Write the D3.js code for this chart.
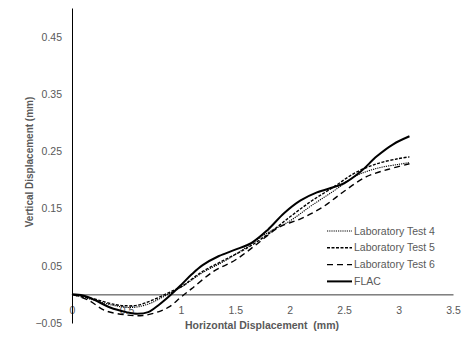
<!DOCTYPE html>
<html>
<head>
<meta charset="utf-8">
<script src="https://cdn.jsdelivr.net/npm/d3@7"></script>
<style>
  body { margin: 0; background: #fff; }
  text { font-family: "Liberation Sans", Arial, sans-serif; }
</style>
</head>
<body>
<div id="chart-area"></div>
<script>
// values
var flacX = [0, 0.1, 0.2, 0.35, 0.5, 0.6, 0.7, 0.8, 0.9, 1.0, 1.1, 1.2, 1.35, 1.5, 1.65, 1.8, 1.95, 2.1, 2.25, 2.4, 2.5, 2.65, 2.8, 2.95, 3.1];
var flacY = [0, -0.002, -0.009, -0.023, -0.031, -0.034, -0.031, -0.018, -0.002, 0.016, 0.035, 0.051, 0.067, 0.078, 0.09, 0.113, 0.142, 0.164, 0.178, 0.187, 0.194, 0.214, 0.241, 0.262, 0.276];

var test4X = [0, 0.2, 0.4, 0.55, 0.7, 0.8, 0.9, 1.0, 1.2, 1.4, 1.6, 1.8, 2.0, 2.2, 2.4, 2.6, 2.8, 3.0, 3.1];
var test4Y = [0, -0.01, -0.02, -0.023, -0.017, -0.008, 0.002, 0.012, 0.038, 0.058, 0.082, 0.108, 0.128, 0.155, 0.18, 0.206, 0.22, 0.227, 0.23];

var test5X = [0, 0.2, 0.4, 0.5, 0.6, 0.7, 0.8, 0.9, 1.0, 1.2, 1.4, 1.6, 1.8, 2.0, 2.2, 2.4, 2.6, 2.8, 3.0, 3.1];
var test5Y = [0, -0.008, -0.018, -0.02, -0.019, -0.013, -0.005, 0.004, 0.013, 0.04, 0.06, 0.08, 0.105, 0.135, 0.163, 0.187, 0.212, 0.228, 0.237, 0.24];

var test6X = [0, 0.15, 0.3, 0.5, 0.65, 0.8, 0.9, 1.0, 1.1, 1.3, 1.5, 1.7, 1.9, 2.1, 2.3, 2.5, 2.7, 2.9, 3.1];
var test6Y = [0, -0.01, -0.028, -0.036, -0.037, -0.03, -0.021, -0.005, 0.01, 0.04, 0.06, 0.088, 0.117, 0.132, 0.152, 0.18, 0.205, 0.218, 0.228];

var xTicks = [0, 0.5, 1, 1.5, 2, 2.5, 3, 3.5];
var yTicks = [-0.05, 0.05, 0.15, 0.25, 0.35, 0.45];

var seriesNames = ["Laboratory Test 4", "Laboratory Test 5", "Laboratory Test 6", "FLAC"];

var margin = {top: 8, right: 11, bottom: 17, left: 72},
    width = 464 - margin.left - margin.right,
    height = 340 - margin.top - margin.bottom;

var svg = d3.select("#chart-area")
    .append("svg")
        .attr("width", 464)
        .attr("height", 340);

var g = svg.append("g")
    .attr("transform", "translate(" + margin.left + "," + margin.top + ")");

var x = d3.scaleLinear()
    .domain([0, 3.5])
    .range([0, 381]);

var y = d3.scaleLinear()
    .domain([-0.05, 0.5])
    .range([height, 0]);

// X axis sits on y = 0
var xAxisCall = d3.axisBottom(x)
    .tickValues(xTicks)
    .tickSize(0)
    .tickPadding(12)
    .tickFormat(d3.format(""));

var xAxis = g.append("g")
    .attr("class", "x axis")
    .attr("transform", "translate(0," + y(0) + ")")
    .call(xAxisCall);
xAxis.select(".domain").attr("stroke", "#3a3a3a").attr("stroke-width", 1);
xAxis.selectAll("text").attr("font-size", "10.5px").attr("fill", "#595959");

var yAxisCall = d3.axisLeft(y)
    .tickValues(yTicks)
    .tickSize(0)
    .tickPadding(10)
    .tickFormat(d3.format(".2f"));

var yAxis = g.append("g")
    .attr("class", "y axis")
    .call(yAxisCall);
yAxis.select(".domain").attr("stroke", "#000").attr("stroke-width", 1);
yAxis.selectAll("text").attr("font-size", "10.5px").attr("fill", "#595959");

// Y Label
g.append("text")
    .attr("class", "y axis-label")
    .attr("x", -(162 - margin.top))
    .attr("y", 30 - margin.left + 3)
    .attr("font-size", "10px")
    .attr("font-weight", "bold")
    .attr("fill", "#595959")
    .attr("text-anchor", "middle")
    .attr("transform", "rotate(-90)")
    .text("Vertical Displacement (mm)");

// X Label
g.append("text")
    .attr("class", "x axis-label")
    .attr("x", 262 - margin.left)
    .attr("y", 329 - margin.top)
    .attr("font-size", "10.5px")
    .attr("font-weight", "bold")
    .attr("fill", "#595959")
    .attr("text-anchor", "middle")
    .attr("xml:space", "preserve")
    .text("Horizontal Displacement  (mm)");

var styles = [
    {dash: "1.2,1", w: 1.1},
    {dash: "3,1.5", w: 1.4},
    {dash: "6,4", w: 1.4},
    {dash: null, w: 2}
];

var series = [
    d3.zip(test4X, test4Y),
    d3.zip(test5X, test5Y),
    d3.zip(test6X, test6Y),
    d3.zip(flacX, flacY)
];

var line = d3.line()
    .x((d) => x(d[0]))
    .y((d) => y(d[1]))
    .curve(d3.curveCatmullRom.alpha(0.5));

series.forEach((s, i) => {
    g.append("path")
        .datum(s)
        .attr("fill", "none")
        .attr("stroke", "#000")
        .attr("stroke-width", styles[i].w)
        .attr("stroke-dasharray", styles[i].dash)
        .attr("d", line);
});

// legend
var legend = g.append("g")
    .attr("transform", "translate(" + (327 - margin.left) + "," + (231 - margin.top) + ")");

seriesNames.forEach((name, i) => {
    var row = legend.append("g")
        .attr("transform", "translate(0," + (i * 16.8) + ")");
    row.append("line")
        .attr("x1", 0)
        .attr("x2", 25)
        .attr("stroke", "#000")
        .attr("stroke-width", styles[i].w)
        .attr("stroke-dasharray", styles[i].dash);
    row.append("text")
        .attr("x", 27)
        .attr("dy", "0.35em")
        .attr("font-size", "10.5px")
        .attr("fill", "#595959")
        .text(name);
});
</script>
</body>
</html>
